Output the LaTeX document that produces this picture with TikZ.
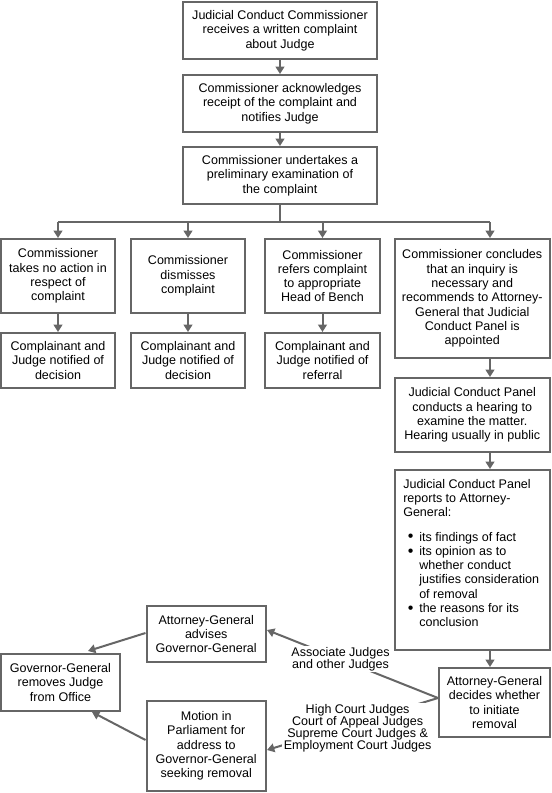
\documentclass[tikz,border=0pt]{standalone}
\usepackage{fontspec}
\setmainfont{Liberation Sans}
\usetikzlibrary{arrows.meta,calc}
\definecolor{ln}{HTML}{666666}
\newcommand{\bul}{\makebox[12pt][l]{\hspace*{3.5pt}\raisebox{-0.6pt}{\fontsize{12pt}{0pt}\selectfont\textbullet}}}
\begin{document}
\begin{tikzpicture}[x=0.75pt,y=-0.75pt,
  box/.style={draw=ln,line width=1.5pt,inner sep=0pt,align=center,
    font=\fontsize{9.4pt}{10.7pt}\selectfont},
  txt/.style={inner sep=0pt,align=left,font=\fontsize{9.4pt}{10.7pt}\selectfont},
  arr/.style={draw=ln,line width=1.5pt,-{Triangle[width=6.5pt,length=5.5pt]}},
  lnk/.style={draw=ln,line width=1.5pt},
  lab/.style={fill=white,inner sep=1pt,align=center,font=\fontsize{9.4pt}{9pt}\selectfont}]
\useasboundingbox (0,0) rectangle (551,793);
\node[box,minimum width=194*0.75pt,minimum height=57*0.75pt] (b1) at (280,30.5)
  {Judicial Conduct Commissioner\\receives a written complaint\\about Judge};
\node[box,minimum width=194*0.75pt,minimum height=57*0.75pt] (b2) at (280,103.5)
  {Commissioner acknowledges\\receipt of the complaint and\\notifies Judge};
\node[box,minimum width=194*0.75pt,minimum height=57*0.75pt] (b3) at (280,175.5)
  {Commissioner undertakes a\\preliminary examination of\\the complaint};
\node[box,minimum width=114*0.75pt,minimum height=74*0.75pt] (a1) at (58,276)
  {Commissioner\\takes no action in\\respect of\\complaint};
\node[box,minimum width=114*0.75pt,minimum height=74*0.75pt] (e1) at (188,276)
  {Commissioner\\dismisses\\complaint};
\node[box,minimum width=115*0.75pt,minimum height=74*0.75pt] (c1) at (322.5,276)
  {Commissioner\\refers complaint\\to appropriate\\Head of Bench};
\node[box,minimum width=155.5*0.75pt,minimum height=119*0.75pt] (d1) at (472.25,298.5)
  {Commissioner concludes\\that an inquiry is\\necessary and\\recommends to Attorney-\\General that Judicial\\Conduct Panel is\\appointed};
\node[box,minimum width=114*0.75pt,minimum height=55*0.75pt] (a2) at (58,360.5)
  {Complainant and\\Judge notified of\\decision};
\node[box,minimum width=114*0.75pt,minimum height=55*0.75pt] (e2) at (188,360.5)
  {Complainant and\\Judge notified of\\decision};
\node[box,minimum width=115*0.75pt,minimum height=55*0.75pt] (c2) at (322.5,360.5)
  {Complainant and\\Judge notified of\\referral};
\node[box,minimum width=155.5*0.75pt,minimum height=74*0.75pt] (d2) at (472.25,415)
  {Judicial Conduct Panel\\conducts a hearing to\\examine the matter.\\Hearing usually in public};
\node[box,minimum width=155.5*0.75pt,minimum height=180*0.75pt] (d3) at (472.25,560) {};
\node[txt,anchor=west] (d3t) at (403,553)
  {Judicial Conduct Panel\\reports to Attorney-\\General:\\[7.5pt]
   \bul its findings of fact\\
   \bul its opinion as to\\
   \hspace*{12pt}whether conduct\\
   \hspace*{12pt}justifies consideration\\
   \hspace*{12pt}of removal\\
   \bul the reasons for its\\
   \hspace*{12pt}conclusion};
\node[box,minimum width=111*0.75pt,minimum height=69*0.75pt] (ag) at (494.5,702.5)
  {Attorney-General\\decides whether\\to initiate\\removal};
\node[box,minimum width=119.5*0.75pt,minimum height=56*0.75pt] (adv) at (206.25,634)
  {Attorney-General\\advises\\Governor-General};
\node[box,minimum width=119*0.75pt,minimum height=57*0.75pt] (gg) at (60.5,682.5)
  {Governor-General\\removes Judge\\from Office};
\node[box,minimum width=119.5*0.75pt,minimum height=90*0.75pt] (mot) at (206.25,746)
  {Motion in\\Parliament for\\address to\\Governor-General\\seeking removal};
% vertical chain
\draw[arr] (b1) -- (b2);
\draw[arr] (b2) -- (b3);
\coordinate (bus) at (280,222);
\coordinate (dx) at (490,0);
\draw[lnk] (b3.south) -- (bus);
\draw[lnk] (bus -| a1.north) -- (bus -| dx);
\draw[arr] (bus -| a1.north) -- (a1.north);
\draw[arr] (bus -| e1.north) -- (e1.north);
\draw[arr] (bus -| c1.north) -- (c1.north);
\draw[arr] (bus -| dx) -- (d1.north -| dx);
\draw[arr] (a1) -- (a2);
\draw[arr] (e1) -- (e2);
\draw[arr] (c1) -- (c2);
\draw[arr] (d1.south -| dx) -- (d2.north -| dx);
\draw[arr] (d2.south -| dx) -- (d3.north -| dx);
\draw[arr] (d3.south -| dx) -- (ag.north -| dx);
% diagonal links
\coordinate (agw) at ($(ag.west)+(0,-4.5)$);
\draw[arr] (agw) -- ($(adv.east)+(0,-4)$)
  node[lab,pos=0.57] {Associate Judges\\and other Judges};
\draw[arr] (agw) -- ($(mot.east)+(0,4)$)
  node[lab,pos=0.47,yshift=-4.5pt] {High Court Judges\\Court of Appeal Judges\\Supreme Court Judges \&\\Employment Court Judges};
\draw[arr] ($(adv.west)+(0,-1)$) -- ($(gg.north)+(27.5,-2)$);
\draw[arr] ($(mot.west)+(0,-6)$) -- ($(gg.south)+(31.5,0)$);
\end{tikzpicture}
\end{document}
